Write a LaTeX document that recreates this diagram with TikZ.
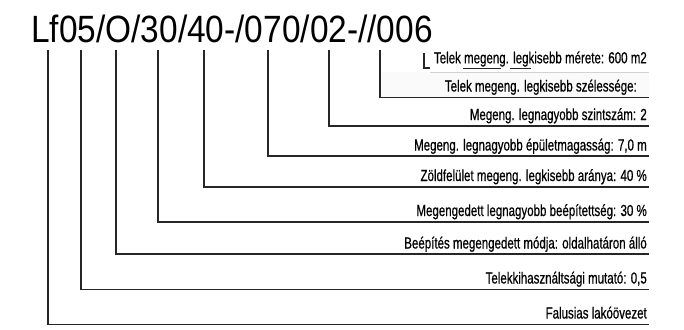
\documentclass[tikz,border=0pt]{standalone}
\usepackage{fontspec}
\newfontfamily\labfont[FakeStretch=0.72,FakeBold=0.6]{Liberation Sans}
\newfontfamily\titfont[FakeStretch=0.88]{Liberation Sans}
\begin{document}
\begin{tikzpicture}[x=1pt,y=-1pt,
  lead/.style={line width=1.6pt,black!85},
  lab/.style={anchor=base east,inner sep=0pt,font=\labfont\fontsize{16}{18}\selectfont},
  faint/.style={line width=0.6pt,gray!35}]
\useasboundingbox (0,0) rectangle (684,329);
\fill[gray!4] (381,72) rectangle (649,97);
\draw[faint] (430,72) -- (649,72);
\node[anchor=base west,inner sep=0pt,font=\titfont\fontsize{38}{40}\selectfont] (title) at (31,42) {Lf05/O/30/40-/070/02-//006};
% vertical tops
\coordinate (v1) at (48,50);
\coordinate (v2) at (81,50);
\coordinate (v3) at (116,50);
\coordinate (v4) at (158,50);
\coordinate (v5) at (204,50);
\coordinate (v6) at (268,50);
\coordinate (v7) at (329,50);
\coordinate (v8) at (380,50);
% line ends
\coordinate (e2) at (649,97.3);
\coordinate (e3) at (649,125.7);
\coordinate (e4) at (649,156);
\coordinate (e5) at (649,186.7);
\coordinate (e6) at (649,221.7);
\coordinate (e7) at (649,254);
\coordinate (e8) at (649,289.3);
\coordinate (e9) at (649,324.3);
% labels
\node[lab] (l1) at (647,63.3) {Telek megeng. legkisebb mérete: 600 m2};
\node[lab] (l2) at (637,91.5) {Telek megeng. legkisebb szélessége:};
\node[lab] (l3) at (647,120) {Megeng. legnagyobb szintszám: 2};
\node[lab] (l4) at (647,150.5) {Megeng. legnagyobb épületmagasság: 7,0 m};
\node[lab] (l5) at (647,181) {Zöldfelület megeng. legkisebb aránya: 40 \%};
\node[lab] (l6) at (647,216) {Megengedett legnagyobb beépítettség: 30 \%};
\node[lab] (l7) at (647,248.5) {Beépítés megengedett módja: oldalhatáron álló};
\node[lab] (l8) at (647,283.5) {Telekkihasználtsági mutató: 0,5};
\node[lab] (l9) at (647,318.5) {Falusias lakóövezet};
% bracket of top label and its short underlines
\coordinate (b1) at (424,53);
\coordinate (b2) at (430,68);
\draw[line width=1.2pt,black!85] (b1) |- (b2);
\coordinate (u1) at (463,68);
\coordinate (u2) at (501,68);
\coordinate (u3) at (510,68);
\coordinate (u4) at (531,68);
\draw[line width=1pt,black!85] (u1) -- (u2) (u3) -- (u4);
% connectors
\draw[lead] (v8) |- (e2);
\draw[lead] (v7) |- (e3);
\draw[lead] (v6) |- (e4);
\draw[lead] (v5) |- (e5);
\draw[lead] (v4) |- (e6);
\draw[lead] (v3) |- (e7);
\draw[lead] (v2) |- (e8);
\draw[lead] (v1) |- (e9);
\end{tikzpicture}
\end{document}
